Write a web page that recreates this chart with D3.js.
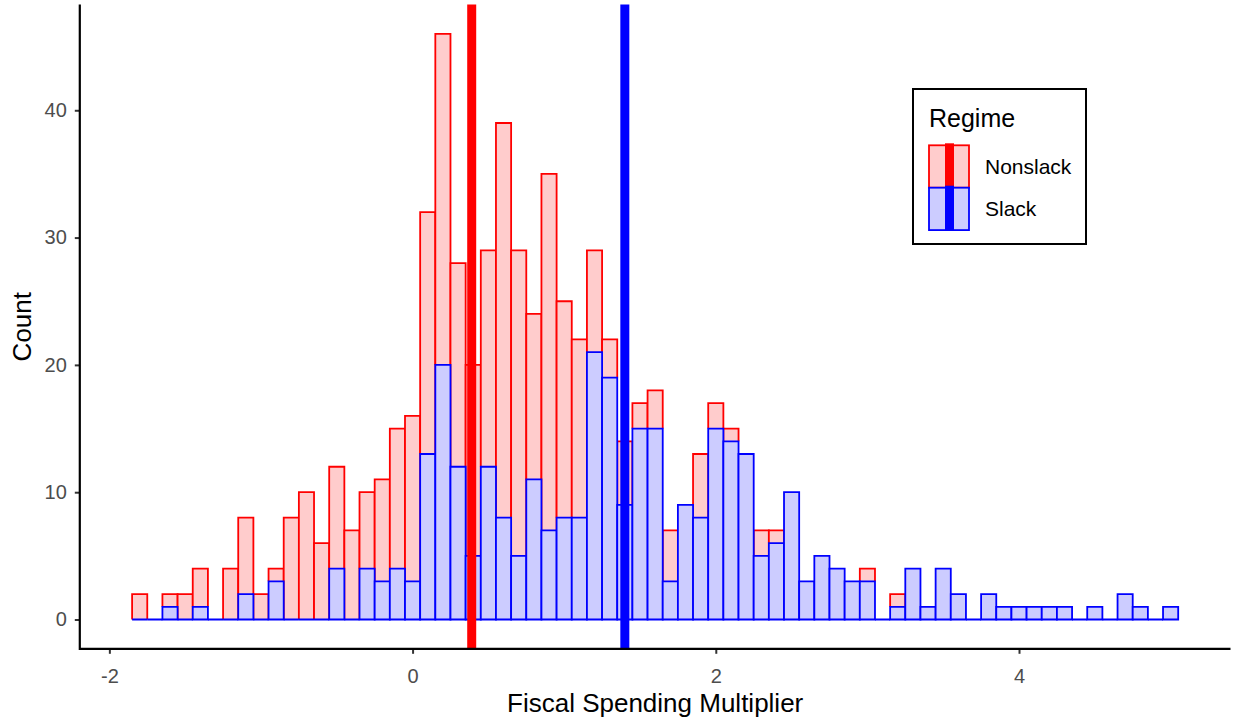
<!DOCTYPE html>
<html>
<head>
<meta charset="utf-8">
<title>Fiscal Spending Multiplier</title>
<script src="https://cdn.jsdelivr.net/npm/d3@7"></script>
<style>
  body { margin: 0; background: #fff; }
  svg { display: block; font-family: "Liberation Sans", Arial, sans-serif; }
</style>
</head>
<body>
<svg id="hist"></svg>
<script>

/*
		 DATA
		 Histogram counts per bin (binwidth 0.1), bars stacked: Slack at bottom, Nonslack on top
*/
var binMids = [-1.8, -1.7, -1.6, -1.5, -1.4, -1.3, -1.2, -1.1, -1.0, -0.9,
               -0.8, -0.7, -0.6, -0.5, -0.4, -0.3, -0.2, -0.1,
               0.0, 0.1, 0.2, 0.3, 0.4, 0.5, 0.6, 0.7, 0.8, 0.9,
               1.0, 1.1, 1.2, 1.3, 1.4, 1.5, 1.6, 1.7, 1.8, 1.9,
               2.0, 2.1, 2.2, 2.3, 2.4, 2.5, 2.6, 2.7, 2.8, 2.9,
               3.0, 3.1, 3.2, 3.3, 3.4, 3.5, 3.6, 3.7, 3.8, 3.9,
               4.0, 4.1, 4.2, 4.3, 4.4, 4.5, 4.6, 4.7, 4.8, 4.9,
               5.0];

var slackCounts = [0, 0, 1, 0, 1, 0, 0, 2, 0, 3,
                   0, 0, 0, 4, 0, 4, 3, 4,
                   3, 13, 20, 12, 5, 12, 8, 5, 11, 7,
                   8, 8, 21, 19, 9, 15, 15, 3, 9, 8,
                   15, 14, 13, 5, 6, 10, 3, 5, 4, 3,
                   3, 0, 1, 4, 1, 4, 2, 0, 2, 1,
                   1, 1, 1, 1, 0, 1, 0, 2, 1, 0,
                   1];

var nonslackCounts = [2, 0, 1, 2, 3, 0, 4, 6, 2, 1,
                      8, 10, 6, 8, 7, 6, 8, 11,
                      13, 19, 26, 16, 15, 17, 31, 24, 13, 28,
                      17, 14, 8, 3, 5, 2, 3, 4, 0, 5,
                      2, 1, 0, 2, 1, 0, 0, 0, 0, 0,
                      1, 0, 1, 0, 0, 0, 0, 0, 0, 0,
                      0, 0, 0, 0, 0, 0, 0, 0, 0, 0,
                      0];

var regimes = ["Nonslack", "Slack"];
var regimeMeans = [0.39, 1.40];

var xTicks = [-2, 0, 2, 4];
var yTicks = [0, 10, 20, 30, 40];

var binWidth = 0.1;

/*
		 LAYOUT CONSTANTS
*/
var width = 1233;
var height = 723;
var panel = {left: 79.8, right: 1230.5, top: 4.6, bottom: 648.8};

var lineCol = {Nonslack: "#ff0000", Slack: "#0000ff"};
var fillCol = {Nonslack: "#ffcccc", Slack: "#ccccff"};

/*
		 SCALES
*/
var x = d3.scaleLinear()
    .domain([-2.195, 5.395])
    .range([panel.left, panel.right]);

var y = d3.scaleLinear()
    .domain([-2.3, 48.3])
    .range([panel.bottom, panel.top]);

var svg = d3.select("#hist")
    .attr("width", width)
    .attr("height", height);

// one row per bin, stacked
var rows = binMids.map(function(m, i) {
  return {mid: m, Slack: slackCounts[i], Nonslack: nonslackCounts[i]};
});
var stacked = d3.stack().keys(["Slack", "Nonslack"])(rows);

// closed outline for the bottom layer (zero bins still give a baseline)
function binPath(d) {
  var x0 = x(d.data.mid - binWidth / 2), x1 = x(d.data.mid + binWidth / 2);
  var y0 = y(d[0]), y1 = y(d[1]);
  return "M" + x0 + "," + y0 + "H" + x1 + "V" + y1 + "H" + x0 + "Z";
}
// top layer: its lower edge sits under the slack outline anyway
function topPath(d) {
  var x0 = x(d.data.mid - binWidth / 2), x1 = x(d.data.mid + binWidth / 2);
  var y0 = y(d[0]), y1 = y(d[1]);
  return "M" + x0 + "," + y0 + "V" + y1 + "H" + x1 + "V" + y0;
}

var nonslackLayer = stacked.filter(function(s) { return s.key == "Nonslack"; })[0]
    .filter(function(d) { return d[1] > d[0]; });
var slackLayer = stacked.filter(function(s) { return s.key == "Slack"; })[0];

var nsBars = svg.append("g").attr("class", "bars Nonslack")
  .selectAll("g")
    .data(nonslackLayer)
  .enter().append("g");

nsBars.append("path")
    .attr("d", binPath)
    .attr("fill", fillCol.Nonslack)
    .attr("stroke", "none");
nsBars.append("path")
    .attr("d", topPath)
    .attr("fill", "none")
    .attr("stroke", lineCol.Nonslack)
    .attr("stroke-width", 1.8);

svg.append("g").attr("class", "bars Slack")
  .selectAll("path")
    .data(slackLayer)
  .enter().append("path")
    .attr("d", binPath)
    .attr("fill", fillCol.Slack)
    .attr("stroke", lineCol.Slack)
    .attr("stroke-width", 1.8);

// mean lines
svg.append("g").selectAll("line")
    .data(regimes)
  .enter().append("line")
    .attr("x1", function(d, i) { return x(regimeMeans[i]); })
    .attr("x2", function(d, i) { return x(regimeMeans[i]); })
    .attr("y1", panel.top)
    .attr("y2", panel.bottom)
    .attr("stroke", function(d) { return lineCol[d]; })
    .attr("stroke-width", 9);

/*
		 AXES
*/
var xAxis = svg.append("g")
    .attr("transform", "translate(0," + panel.bottom + ")")
    .call(d3.axisBottom(x).tickValues(xTicks).tickSize(5).tickPadding(10)
      .tickFormat(function(d) { return String(d); }));

var yAxis = svg.append("g")
    .attr("transform", "translate(" + panel.left + ",0)")
    .call(d3.axisLeft(y).tickValues(yTicks).tickSize(5).tickPadding(8));

[xAxis, yAxis].forEach(function(ax) {
  ax.select(".domain").remove();
  ax.selectAll(".tick line").attr("stroke", "#333333").attr("stroke-width", 2);
  ax.selectAll(".tick text")
      .attr("fill", "#4d4d4d")
      .style("font-size", "20px")
      .style("font-family", "'Liberation Sans', Arial, sans-serif");
});
xAxis.selectAll(".tick text").attr("dy", "0.95em");

// axis lines like theme_classic
svg.append("line")
    .attr("x1", panel.left).attr("x2", panel.right)
    .attr("y1", panel.bottom).attr("y2", panel.bottom)
    .attr("stroke", "#000").attr("stroke-width", 2.2);
svg.append("line")
    .attr("x1", panel.left).attr("x2", panel.left)
    .attr("y1", panel.top).attr("y2", panel.bottom + 1.1)
    .attr("stroke", "#000").attr("stroke-width", 2.2);

svg.append("text")
    .attr("x", (panel.left + panel.right) / 2)
    .attr("y", 712)
    .attr("text-anchor", "middle")
    .style("font-size", "26px")
    .text("Fiscal Spending Multiplier");

svg.append("text")
    .attr("transform", "translate(31," + ((panel.top + panel.bottom) / 2) + ") rotate(-90)")
    .attr("text-anchor", "middle")
    .style("font-size", "26px")
    .text("Count");

/*
		 LEGEND
*/
var legend = svg.append("g").attr("class", "legend");

legend.append("rect")
    .attr("x", 913).attr("y", 89)
    .attr("width", 173).attr("height", 155)
    .attr("fill", "#fff")
    .attr("stroke", "#000")
    .attr("stroke-width", 2);

legend.append("text")
    .attr("x", 929).attr("y", 127)
    .style("font-size", "25px")
    .text("Regime");

var keyTop = 145.3, keyH = 42.4;

var key = legend.selectAll(".key")
    .data(regimes)
  .enter().append("g")
    .attr("class", "key")
    .attr("transform", function(d, i) { return "translate(0," + (keyTop + i * keyH) + ")"; });

key.append("rect")
    .attr("x", 929).attr("y", 0)
    .attr("width", 40).attr("height", keyH)
    .attr("fill", function(d) { return fillCol[d]; })
    .attr("stroke", function(d) { return lineCol[d]; })
    .attr("stroke-width", 1.8);

key.append("line")
    .attr("x1", 949.5).attr("x2", 949.5)
    .attr("y1", -2).attr("y2", keyH)
    .attr("stroke", function(d) { return lineCol[d]; })
    .attr("stroke-width", 9);

key.append("text")
    .attr("x", 985)
    .attr("y", keyH / 2 + 7.5)
    .style("font-size", "21px")
    .text(function(d) { return d; });

console.log("bins drawn:", binMids.length);
</script>
</body>
</html>
